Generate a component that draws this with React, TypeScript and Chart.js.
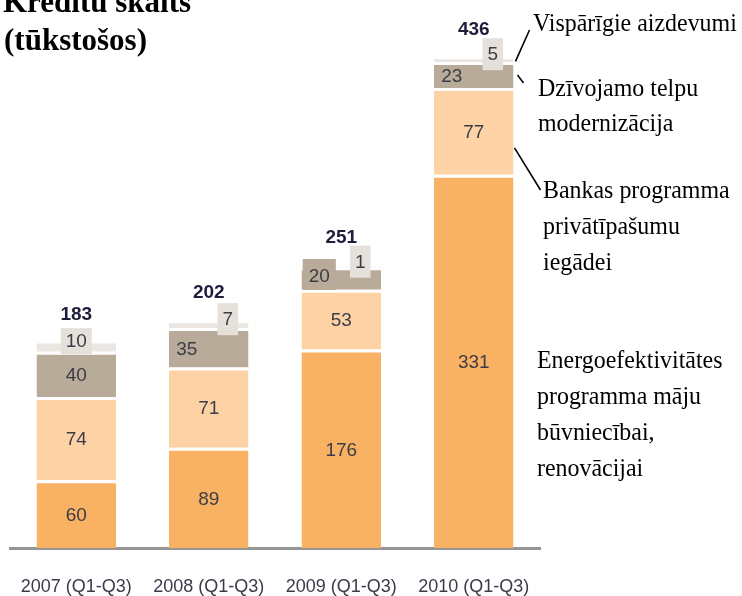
import { useEffect, useRef } from "react";
import { Chart, registerables } from "chart.js";

Chart.register(...registerables);

// ---- data ----
const categories = ["2007 (Q1-Q3)", "2008 (Q1-Q3)", "2009 (Q1-Q3)", "2010 (Q1-Q3)"];
const energyProgram = [60, 89, 176, 331];
const bankProgram = [74, 71, 53, 77];
const housingModernisation = [40, 35, 20, 23];
const generalLoans = [10, 7, 1, 5];
const totals = [183, 202, 251, 436];
const titleLines = ["Kredītu skaits", "(tūkstošos)"];
const energyLabel = ["Energoefektivitātes", "programma māju", "būvniecībai,", "renovācijai"];
const bankLabel = ["Bankas programma", "privātīpašumu", "iegādei"];
const housingLabel = ["Dzīvojamo telpu", "modernizācija"];
const generalLabel = ["Vispārīgie aizdevumi"];

const COLORS = {
  energy: "#F9B264",
  bank: "#FDD3A5",
  housing: "#B9AB99",
  general: "#EBE6E1",
  box: "#E5E0DA",
  label: "#3c3c46",
  total: "#1e1e3c",
};

const SANS = "'Liberation Sans', Arial, sans-serif";
const SERIF = "'Liberation Serif', 'Times New Roman', serif";

const labelsPlugin = {
  id: "segmentLabels",
  afterDatasetsDraw(chart: any) {
    const ctx: CanvasRenderingContext2D = chart.ctx;
    const yScale = chart.scales.y;
    ctx.save();
    ctx.textAlign = "center";
    ctx.textBaseline = "middle";
    categories.forEach((_, i) => {
      const small = generalLoans[i] < 8;
      for (let d = 0; d < chart.data.datasets.length; d++) {
        const el = chart.getDatasetMeta(d).data[i];
        const { x, y, base } = el.getProps(["x", "y", "base"], true);
        const cy = (y + base) / 2 + 1.5;
        const val = String(chart.data.datasets[d].data[i]);
        ctx.font = `19px ${SANS}`;
        if (d < 2) {
          ctx.fillStyle = COLORS.label;
          ctx.fillText(val, x, cy);
        } else if (d === 2) {
          const lx = small ? x - 22 : x;
          let ty = cy;
          if (base - y < 24) {
            ty = cy - 3;
            const w = ctx.measureText(val).width + 12;
            ctx.fillStyle = COLORS.housing;
            ctx.fillRect(lx - w / 2, ty - 18, w, 31);
          }
          ctx.fillStyle = COLORS.label;
          ctx.fillText(val, lx, ty);
        } else {
          const lx = small ? x + 19 : x;
          const ty = (y + base) / 2 - 5;
          const w = Math.max(20, ctx.measureText(val).width + 10);
          const h = small ? 32 : 26;
          ctx.fillStyle = COLORS.box;
          ctx.fillRect(lx - w / 2, ty - h / 2, w, h);
          ctx.fillStyle = COLORS.label;
          ctx.fillText(val, lx, ty + 1);
        }
      }
      // totals
      const el0 = chart.getDatasetMeta(0).data[i];
      ctx.font = `bold 19px ${SANS}`;
      ctx.fillStyle = COLORS.total;
      ctx.fillText(String(totals[i]), el0.x, yScale.getPixelForValue(totals[i]) - 27);
    });
    ctx.restore();
  },
  afterDraw(chart: any) {
    const ctx: CanvasRenderingContext2D = chart.ctx;
    const yScale = chart.scales.y;
    const last = categories.length - 1;
    ctx.save();
    // title
    ctx.fillStyle = "#000";
    ctx.textAlign = "left";
    ctx.textBaseline = "alphabetic";
    ctx.font = `bold 31px ${SERIF}`;
    ctx.fillText(titleLines[0], 3, 12);
    ctx.fillText(titleLines[1], 4, 50);

    // annotations
    const drawLines = (lines: string[], x: number, y0: number, step: number) => {
      ctx.save();
      ctx.font = `26px ${SERIF}`;
      ctx.translate(x, 0);
      ctx.scale(0.92, 1);
      lines.forEach((t, k) => ctx.fillText(t, 0, y0 + k * step));
      ctx.restore();
    };
    drawLines(generalLabel, 533, 31, 36);
    drawLines(housingLabel, 538, 96, 35);
    drawLines(bankLabel, 543, 198, 36);
    drawLines(energyLabel, 537, 368, 36);

    // leader lines anchored to the last bar
    const elG = chart.getDatasetMeta(3).data[last];
    const elH = chart.getDatasetMeta(2).data[last];
    const elB = chart.getDatasetMeta(1).data[last];
    const right = elG.x + elG.width / 2;
    ctx.strokeStyle = "#000";
    ctx.lineWidth = 1.6;
    const line = (x1: number, y1: number, x2: number, y2: number) => {
      ctx.beginPath();
      ctx.moveTo(x1, y1);
      ctx.lineTo(x2, y2);
      ctx.stroke();
    };
    line(right + 2, yScale.getPixelForValue(totals[last]) + 5, right + 16, 30);
    const hc = (elH.y + elH.base) / 2;
    line(right + 4, hc, right + 10, hc + 8);
    const bp = elB.y + (elB.base - elB.y) * 0.69;
    line(right + 1, bp, right + 27, 190);
    ctx.restore();
  },
};

export default function App() {
  const canvasRef = useRef<HTMLCanvasElement | null>(null);
  useEffect(() => {
    if (!canvasRef.current) return;
    const ds = (label: string, data: number[], color: string) => ({
      label,
      data,
      backgroundColor: color,
      borderColor: "#ffffff",
      borderWidth: { top: 3, left: 0, right: 0, bottom: 0 },
      borderSkipped: false,
      barPercentage: 0.6,
      categoryPercentage: 1,
    });
    const chart = new Chart(canvasRef.current, {
      type: "bar",
      data: {
        labels: categories,
        datasets: [
          ds(energyLabel.join(" "), energyProgram, COLORS.energy),
          ds(bankLabel.join(" "), bankProgram, COLORS.bank),
          ds(housingLabel.join(" "), housingModernisation, COLORS.housing),
          ds(generalLabel.join(" "), generalLoans, COLORS.general),
        ],
      },
      options: {
        animation: false,
        responsive: true,
        maintainAspectRatio: false,
        layout: { padding: { left: 10, right: 202, top: 0, bottom: 0 } },
        plugins: {
          legend: { display: false },
          tooltip: { enabled: false },
          title: { display: false },
        },
        scales: {
          x: {
            stacked: true,
            grid: { display: false, drawTicks: false },
            border: { display: true, color: "#959595", width: 3 },
            ticks: {
              color: "#3a3a4a",
              font: { family: SANS, size: 18 },
              padding: 28,
              maxRotation: 0,
            },
            afterFit: (scale: any) => {
              scale.height = 48;
              scale.paddingLeft = 0;
              scale.paddingRight = 0;
            },
          },
          y: {
            stacked: true,
            display: false,
            min: 0,
            max: 486,
          },
        },
      },
      plugins: [labelsPlugin],
    });
    return () => chart.destroy();
  }, []);
  return (
    <div style={{ position: "absolute", left: 0, top: 0, width: 742, height: 596, background: "#fff" }}>
      <canvas ref={canvasRef} />
    </div>
  );
}
